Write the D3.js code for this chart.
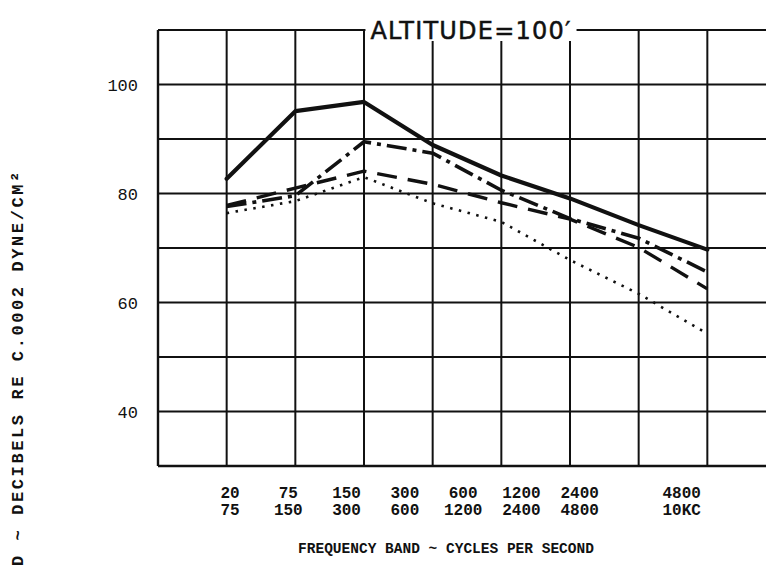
<!DOCTYPE html>
<html>
<head>
<meta charset="utf-8">
<script src="https://cdn.jsdelivr.net/npm/d3@7"></script>
<style>
  html, body { margin: 0; padding: 0; background: #fff; }
  svg { display: block; }
</style>
</head>
<body>
<svg id="chart" width="766" height="566"></svg>
<script>
// ---- data ----
const bandLow  = ["20", "75", "150", "300", "600", "1200", "2400", "4800"];
const bandHigh = ["75", "150", "300", "600", "1200", "2400", "4800", "10KC"];
const bandIndex = [0, 1, 2, 3, 4, 5, 6, 7];
const labelSlot = [0, 1, 2, 3, 4, 5, 6, 7.75];   // typed label offsets as in the original
const solidSeries   = [82.7, 95.1, 96.8, 88.9, 83.3, 79.1, 74.2, 69.7];
const dashDotSeries = [77.6, 79.6, 89.5, 87.4, 80.6, 75.4, 71.8, 65.6];
const dashedSeries  = [77.8, 81.0, 84.1, 81.7, 78.3, 75.3, 70.1, 62.5];
const dottedSeries  = [76.4, 78.6, 83.0, 78.2, 74.8, 67.8, 61.6, 54.3];
const yTickValues = [40, 60, 80, 100];
const yGridValues = [40, 50, 60, 70, 80, 90, 100];
const titleText = "ALTITUDE=100\u2032";
const xTitle = "FREQUENCY BAND ~ CYCLES PER SECOND";
const yTitle = "D ~ DECIBELS RE C.0002 DYNE/CM\u00B2";

// ---- layout ----
const svg = d3.select("#chart");
const ink = "#111";
const x = d3.scaleLinear().domain([-1, 8]).range([158, 776]);
const y = d3.scaleLinear().domain([30, 110]).range([466, 30]);
const xLab = d3.scaleLinear().domain([0, 7]).range([230, 638]);

const g = svg.append("g");

// vertical grid lines (including frame)
const vIdx = d3.range(-1, 9);
g.selectAll("line.v").data(vIdx).join("line")
  .attr("x1", d => x(d)).attr("x2", d => x(d))
  .attr("y1", y(110)).attr("y2", y(30))
  .attr("stroke", ink).attr("stroke-width", d => d === -1 ? 2.4 : 2);

// horizontal grid lines
g.selectAll("line.h").data(yGridValues).join("line")
  .attr("x1", x(-1)).attr("x2", 766)
  .attr("y1", d => y(d)).attr("y2", d => y(d))
  .attr("stroke", ink).attr("stroke-width", 1.8);

// frame top & bottom
g.append("line").attr("x1", x(-1)).attr("x2", 766).attr("y1", y(110)).attr("y2", y(110))
  .attr("stroke", ink).attr("stroke-width", 2);
g.append("line").attr("x1", x(-1)).attr("x2", 766).attr("y1", y(30)).attr("y2", y(30))
  .attr("stroke", ink).attr("stroke-width", 2.4);

// title with white knock-out
const title = svg.append("text")
  .attr("x", 471).attr("y", y(110) + 9)
  .attr("text-anchor", "middle")
  .attr("font-family", "DejaVu Sans, sans-serif")
  .attr("font-size", 24)
  .attr("letter-spacing", 1.2)
  .attr("stroke", ink).attr("stroke-width", 0.5)
  .attr("fill", ink)
  .text(titleText);
const bb = title.node().getBBox();
svg.insert("rect", "text")
  .attr("x", bb.x - 5).attr("y", bb.y - 2)
  .attr("width", bb.width + 10).attr("height", 26)
  .attr("fill", "#fff");

// series
const line = d3.line().x((d, i) => x(bandIndex[i])).y(d => y(d));
const series = [
  { v: dottedSeries,  w: 2.6, dash: "2.5,6.5", cap: "butt" },
  { v: dashedSeries,  w: 3.4, dash: "20,11",   cap: "butt" },
  { v: dashDotSeries, w: 3.6, dash: "20,6,4,6", cap: "butt" },
  { v: solidSeries,   w: 4.2, dash: null,      cap: "round" }
];
svg.append("g").selectAll("path").data(series).join("path")
  .attr("d", d => line(d.v))
  .attr("fill", "none")
  .attr("stroke", ink)
  .attr("stroke-width", d => d.w)
  .attr("stroke-linejoin", "round")
  .attr("stroke-linecap", d => d.cap)
  .attr("stroke-dasharray", d => d.dash);

// y tick labels
svg.append("g").selectAll("text").data(yTickValues).join("text")
  .attr("x", 138).attr("y", d => y(d))
  .attr("dy", "0.36em")
  .attr("text-anchor", "end")
  .attr("font-family", "Liberation Mono, monospace")
  .attr("font-size", 17)
  .attr("fill", ink)
  .text(d => d);

// x tick labels (two rows)
const xl = svg.append("g")
  .attr("font-family", "Liberation Mono, monospace")
  .attr("font-weight", "bold")
  .attr("font-size", 16)
  .attr("fill", ink)
  .attr("text-anchor", "middle");
xl.selectAll("text.lo").data(bandLow).join("text")
  .attr("x", (d, i) => xLab(labelSlot[i])).attr("y", 498).text(d => d);
xl.selectAll("text.hi").data(bandHigh).join("text")
  .attr("x", (d, i) => xLab(labelSlot[i])).attr("y", 515).text(d => d);

// x title
svg.append("text")
  .attr("x", 446).attr("y", 553)
  .attr("text-anchor", "middle")
  .attr("font-family", "Liberation Mono, monospace")
  .attr("font-weight", "bold")
  .attr("font-size", 14.5)
  .attr("fill", ink)
  .text(xTitle);

// y title (rotated, partly cut at the bottom like the original)
svg.append("text")
  .attr("transform", "translate(23,566) rotate(-90)")
  .attr("text-anchor", "start")
  .attr("font-family", "Liberation Mono, monospace")
  .attr("font-weight", "bold")
  .attr("font-size", 17)
  .attr("letter-spacing", 2.6)
  .attr("fill", ink)
  .text(yTitle);
</script>
</body>
</html>
